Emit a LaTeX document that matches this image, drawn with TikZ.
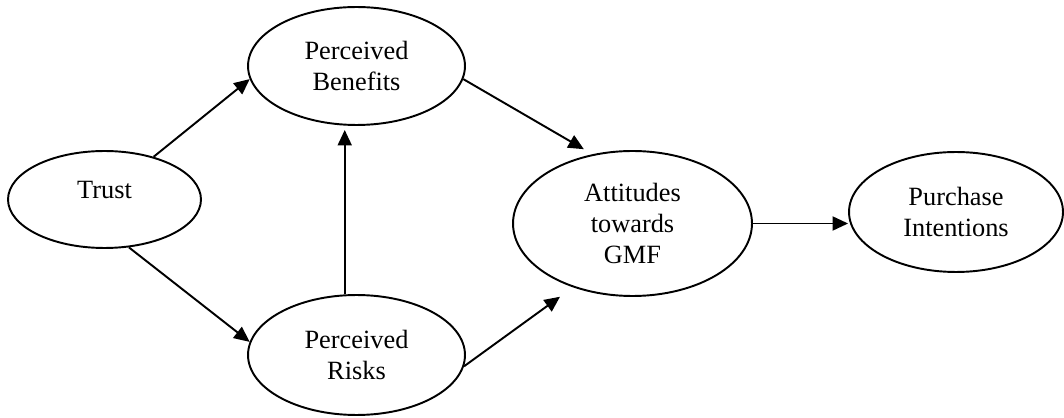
\documentclass[tikz,border=0pt]{standalone}
\usepackage{fontspec}
\setmainfont{Liberation Serif}
\usetikzlibrary{shapes.geometric, arrows.meta}

\begin{document}
\begin{tikzpicture}[x=0.02cm, y=-0.02cm, font=\fontsize{15}{17.6}\selectfont]
        % Setup the styles for the constructs and the arrows
        \tikzset{construct style/.style={ellipse,
                                    draw,
                                    align=center,
                                    line width=1.1pt,
                                    inner sep=0pt},
                 link style/.style={line width=1.1pt,
                                    -{Triangle[length=0.31cm, width=0.28cm]}}}
        \useasboundingbox (0, 0) rectangle (1064, 418);

        % Draw the constructs
        \node[construct style, minimum width=3.86cm, minimum height=1.94cm, text depth=0.38cm] at (104.5, 199.5) (trust) {Trust};
        \node[construct style, minimum width=4.34cm, minimum height=2.36cm] at (356.5, 66) (benefits) {Perceived\\Benefits};
        \node[construct style, minimum width=4.34cm, minimum height=2.4cm] at (356.5, 355) (risks) {Perceived\\Risks};
        \node[construct style, minimum width=4.78cm, minimum height=2.9cm] at (632.5, 223.5) (attitudes) {Attitudes\\towards\\GMF};
        \node[construct style, minimum width=4.28cm, minimum height=2.4cm] at (956, 212) (purchase) {Purchase\\Intentions};

        % Connect the constructs with arrows
        \draw[link style] (trust.41) -- (benefits.187);
        \draw[link style] (trust.297) -- (risks.173);
        \draw[link style, shorten >=0.08cm] (risks.101) -- (risks.101 |- benefits.south);
        \draw[link style, shorten >=0.2cm] (benefits.353) -- (attitudes.120);
        \draw[link style, shorten >=0.32cm] (risks.354) -- (attitudes.227);
        \draw[link style] (attitudes.east) -- (attitudes.east -| purchase.west);
\end{tikzpicture}
\end{document}
